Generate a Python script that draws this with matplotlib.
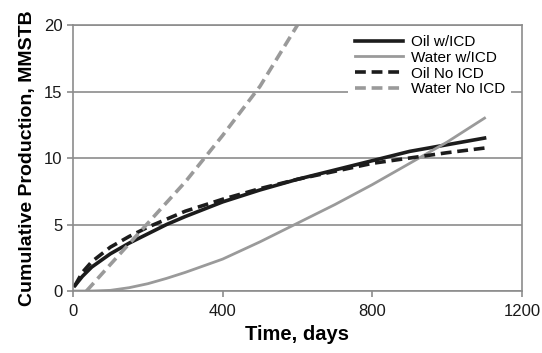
import numpy as np
import matplotlib.pyplot as plt

plt.rcParams['font.family'] = ['Liberation Sans', 'DejaVu Sans']

days_oil = [5, 25, 50, 100, 150, 200, 250, 300, 400, 500, 600, 700, 800, 900, 1000, 1100]
oil_icd = [0.4, 1.1, 1.8, 2.8, 3.6, 4.3, 5.0, 5.6, 6.7, 7.6, 8.4, 9.1, 9.8, 10.5, 11.0, 11.5]
oil_no_icd = [0.4, 1.4, 2.2, 3.3, 4.1, 4.8, 5.4, 6.0, 6.9, 7.7, 8.4, 9.0, 9.6, 10.0, 10.4, 10.75]

days_water = [0, 50, 100, 150, 200, 250, 300, 400, 500, 600, 700, 800, 900, 1000, 1100]
water_icd = [0, 0, 0.05, 0.25, 0.55, 0.95, 1.4, 2.4, 3.7, 5.1, 6.5, 8.0, 9.6, 11.2, 13.0]

days_water_no = [36, 100, 200, 300, 400, 500, 600]
water_no_icd = [0, 2.0, 5.1, 8.2, 11.7, 15.4, 20.0]

black = '#1c1c1c'
gray = '#9a9a9a'
frame = '#8c8c8c'

fig = plt.figure(figsize=(5.42, 3.53), dpi=100)
ax = fig.add_axes([0.1347, 0.1756, 0.8283, 0.7535])

ax.plot(days_oil, oil_icd, color=black, lw=2.6, label='Oil w/ICD')
ax.plot(days_water, water_icd, color=gray, lw=2.0, label='Water w/ICD')
ax.plot(days_oil, oil_no_icd, color=black, lw=2.6, ls=(0, (3, 1.6)), label='Oil No ICD')
ax.plot(days_water_no, water_no_icd, color=gray, lw=2.6, ls=(0, (3, 1.6)), label='Water No ICD')

ax.set_xlim(0, 1200)
ax.set_ylim(0, 20)
ax.set_xticks([0, 400, 800, 1200])
ax.set_yticks([0, 5, 10, 15, 20])
ax.yaxis.grid(True, color=frame, lw=1.2)
ax.set_axisbelow(True)
for s in ax.spines.values():
    s.set_color(frame)
    s.set_linewidth(1.2)
ax.tick_params(colors=frame, labelcolor='#1a1a1a', labelsize=12, length=4, width=1.2)
ax.tick_params(axis='x', pad=5)

ax.set_xlabel('Time, days', fontsize=14.5, fontweight='bold', labelpad=5)
ax.set_ylabel('Cumulative Production, MMSTB', fontsize=14, fontweight='bold', labelpad=6)

leg = ax.legend(loc='upper right', bbox_to_anchor=(0.985, 1.0), frameon=True, fontsize=11,
                handlelength=3.2, handletextpad=0.5, labelspacing=0.12, borderaxespad=0.25)
leg.get_frame().set_edgecolor('none')
leg.get_frame().set_facecolor('white')
leg.get_frame().set_alpha(1)

fig.savefig('out.png', dpi=100)
